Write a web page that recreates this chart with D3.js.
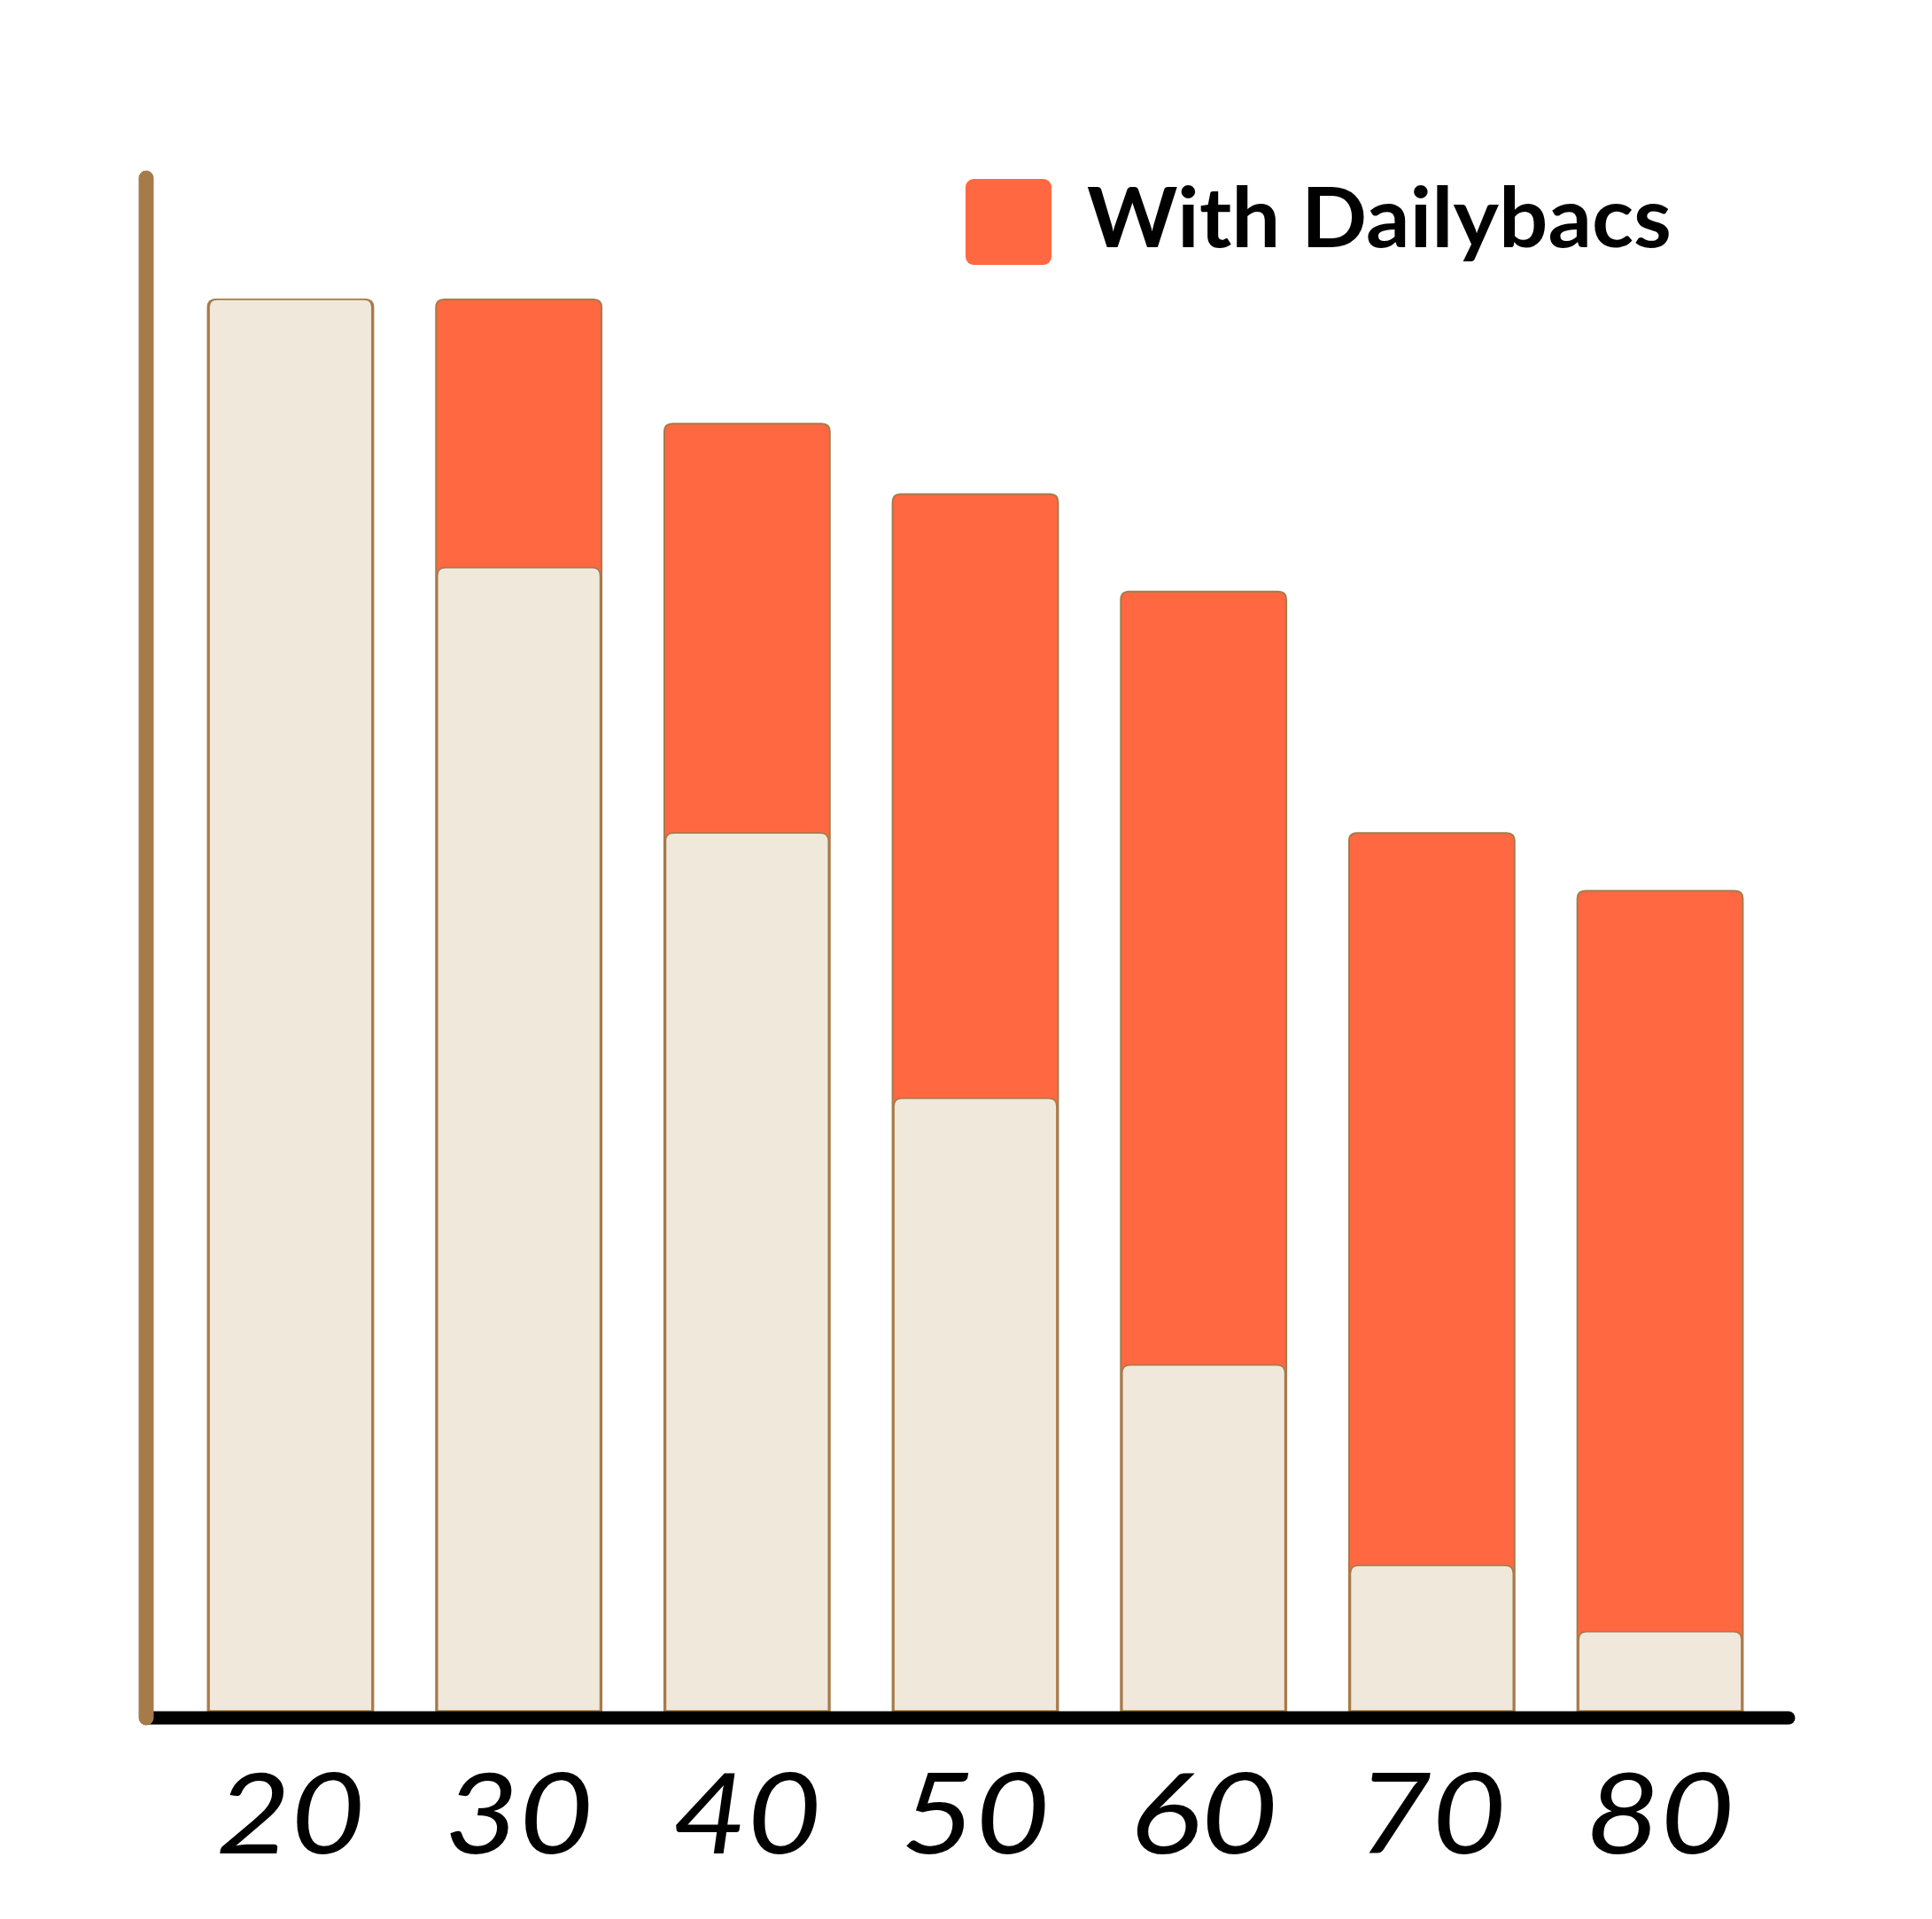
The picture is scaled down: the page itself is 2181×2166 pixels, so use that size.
<!DOCTYPE html>
<html>
<head>
<meta charset="utf-8">
<script src="https://cdn.jsdelivr.net/npm/d3@7"></script>
<style>
    body { margin: 0; background: #fff; }
    svg { display: block; }
</style>
</head>
<body>
<svg id="chart" width="2181" height="2166"></svg>
<script>
// age groups on the x axis
var ages = ["20", "30", "40", "50", "60", "70", "80"];
// orange bars (drawn behind)
var withDailybacs = [100, 100, 91.2, 86.2, 79.3, 62.2, 58.1];
// beige bars (drawn in front)
var withoutDailybacs = [100, 81.0, 62.2, 43.4, 24.5, 10.3, 5.6];

var legendLabel = "With Dailybacs";

var svg = d3.select("#chart");

var margin = {top: 338, left: 165, bottom: 235, right: 162},
    width = +svg.attr("width"),
    height = +svg.attr("height");

var baseY = height - margin.bottom; // bottom of the bars
var axisEnd = width - margin.right;

var x = d3.scaleBand()
    .domain(ages)
    .range([margin.left, margin.left + 257.5 * 7.27])
    .paddingInner(0.275)
    .paddingOuter(0.27);

var y = d3.scaleLinear()
    .domain([0, 100])
    .range([baseY, margin.top]);

var orange = "#FF6841",
    beige = "#F0E8DB",
    brown = "#A67B4A";

// bar path with only the top corners rounded
function topRounded(x0, y0, w, h, r) {
    r = Math.min(r, h, w / 2);
    return "M" + x0 + "," + (y0 + h) +
        "V" + (y0 + r) +
        "Q" + x0 + "," + y0 + " " + (x0 + r) + "," + y0 +
        "H" + (x0 + w - r) +
        "Q" + (x0 + w) + "," + y0 + " " + (x0 + w) + "," + (y0 + r) +
        "V" + (y0 + h) + "Z";
}

var rows = ages.map(function(a, i) {
    return {age: a, withD: withDailybacs[i], without: withoutDailybacs[i]};
});

svg.append("g")
    .attr("class", "with")
    .selectAll("path")
    .data(rows)
    .enter().append("path")
    .attr("d", function(d) {
        return topRounded(x(d.age), y(d.withD), x.bandwidth(), baseY - y(d.withD), 9);
    })
    .attr("fill", orange)
    .attr("stroke", brown)
    .attr("stroke-width", 2);

svg.append("g")
    .attr("class", "without")
    .selectAll("path")
    .data(rows)
    .enter().append("path")
    .attr("d", function(d) {
        return topRounded(x(d.age) + 1.5, y(d.without), x.bandwidth() - 3, baseY - y(d.without), 9);
    })
    .attr("fill", beige)
    .attr("stroke", brown)
    .attr("stroke-width", 1.6);

// x axis: black bar plus italic labels
var axisY = baseY + 8;

svg.append("line")
    .attr("x1", margin.left)
    .attr("x2", axisEnd)
    .attr("y1", axisY)
    .attr("y2", axisY)
    .attr("stroke", "#000")
    .attr("stroke-width", 15)
    .attr("stroke-linecap", "round");

var xAxis = svg.append("g")
    .attr("class", "x-axis")
    .attr("transform", `translate(0,${axisY})`)
    .call(d3.axisBottom(x).tickSize(0));

xAxis.select(".domain").remove();
xAxis.selectAll("text")
    .attr("y", 153)
    .attr("dy", 0)
    .attr("fill", "#000")
    .attr("textLength", 168)
    .attr("lengthAdjust", "spacingAndGlyphs")
    .style("font-family", "Lato, 'Open Sans', sans-serif")
    .style("font-style", "italic")
    .style("font-size", "126px");

// y axis: brown line only
svg.append("line")
    .attr("x1", margin.left)
    .attr("x2", margin.left)
    .attr("y1", 201)
    .attr("y2", axisY)
    .attr("stroke", brown)
    .attr("stroke-width", 17)
    .attr("stroke-linecap", "round");

// legend
var legend = svg.append("g")
    .attr("transform", "translate(1090,202)");

legend.append("rect")
    .attr("width", 97)
    .attr("height", 97)
    .attr("rx", 9)
    .attr("fill", orange);

legend.append("text")
    .attr("x", 137)
    .attr("y", 77)
    .attr("textLength", 660)
    .attr("lengthAdjust", "spacingAndGlyphs")
    .style("font-family", "Lato, 'Open Sans', sans-serif")
    .style("font-weight", 700)
    .style("font-size", "93px")
    .attr("fill", "#000")
    .text(legendLabel);
</script>
</body>
</html>
